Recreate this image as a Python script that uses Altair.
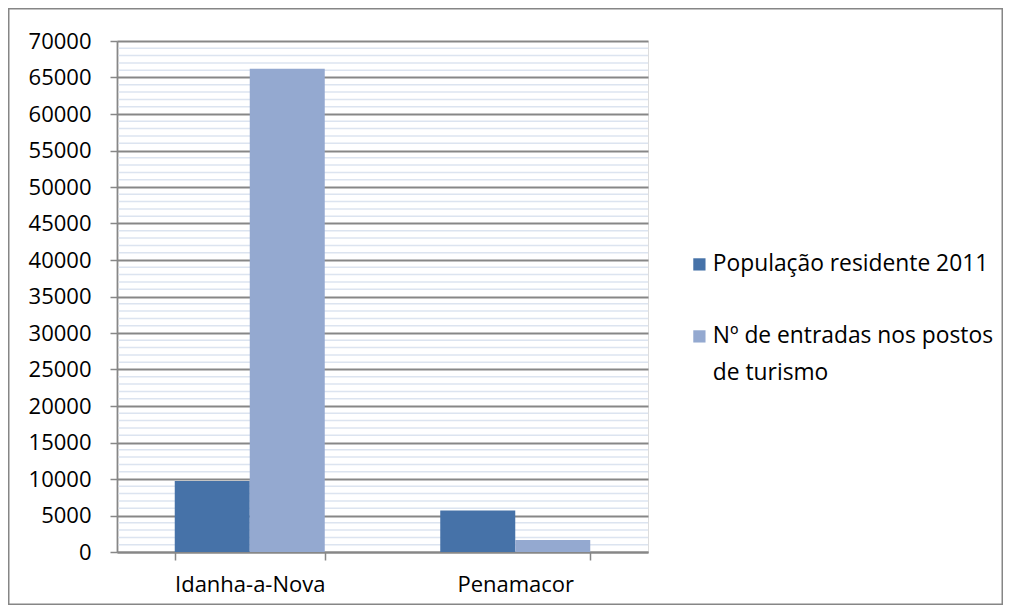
import altair as alt
import pandas as pd

categories = ["Idanha-a-Nova", "Penamacor"]
series = ["População residente 2011", "Nº de entradas nos postos de turismo"]
populacao = [9716, 5682]
entradas = [66200, 1650]
minor_ticks = [v for v in range(1000, 70000, 1000) if v % 5000 != 0]
major_ticks = list(range(0, 70001, 5000))

rows = []
for i, c in enumerate(categories):
    rows.append({"cat": c, "serie": series[0], "valor": populacao[i]})
    rows.append({"cat": c, "serie": series[1], "valor": entradas[i]})
df = pd.DataFrame(rows)
df_minor = pd.DataFrame({"valor": minor_ticks})

FONT = "Open Sans"
W, H = 531, 511
PL, PT = 109, 33
PR = 995 - PL - W
PB = 597 - PT - H

yscale = alt.Scale(domain=[0, 70000], nice=False)


def yaxis():
    return alt.Axis(values=major_ticks, format="d", grid=True, gridColor="#878787", gridWidth=1.8,
                    labelFont=FONT, labelFontSize=22, labelColor="#000000",
                    tickSize=7, tickColor="#878787", tickWidth=1.5, labelPadding=19,
                    domainColor="#878787", domainWidth=1.8, title=None)


minor = alt.Chart(df_minor).mark_rule(color="#DCE4F0", strokeWidth=1.5).encode(
    y=alt.Y("valor:Q", scale=yscale, axis=yaxis()),
    x=alt.value(1.5), x2=alt.value(W),
)

bars = alt.Chart(df).mark_bar().encode(
    x=alt.X("cat:N", sort=categories,
            scale=alt.Scale(paddingInner=0.435, paddingOuter=0.2175),
            axis=alt.Axis(title=None, labelAngle=0, labelFont=FONT, labelFontSize=22,
                          labelColor="#000000", labelPadding=14, tickBand="extent",
                          tickSize=8, tickColor="#878787", tickWidth=1.5,
                          domainColor="#878787", domainWidth=1.8)),
    xOffset=alt.XOffset("serie:N", sort=series),
    y=alt.Y("valor:Q", scale=yscale, axis=yaxis()),
    color=alt.Color("serie:N", sort=series,
                    scale=alt.Scale(domain=series, range=["#4672A8", "#94A9D0"]),
                    legend=alt.Legend(title=None, orient="none", legendX=571, legendY=212,
                                      symbolType="square", symbolSize=150, symbolStrokeWidth=0,
                                      labelFont=FONT, labelFontSize=22.8, labelColor="#000000",
                                      rowPadding=48, labelOffset=2, labelLimit=400,
                                      labelExpr="datum.label == 'População residente 2011' ? datum.label : ['Nº de entradas nos postos', 'de turismo']")),
)

frame = alt.Chart(pd.DataFrame({"a": [0]})).mark_rect(fill=None, stroke="#868686", strokeWidth=1.5, clip=False).encode(
    x=alt.value(-PL + 0.75), x2=alt.value(W + PR - 0.75),
    y=alt.value(-PT + 0.75), y2=alt.value(H + PB - 0.75),
)

chart = alt.layer(minor, bars, frame).properties(
    width=W, height=H,
    padding={"left": PL, "top": PT, "right": PR, "bottom": PB},
    autosize=alt.AutoSizeParams(type="none"),
).configure_view(stroke=None).configure(
    background="white",
    style={"guide-label": {"lineHeight": 37}},
)

chart.save("out.html", embed_options={"renderer": "svg", "actions": False})
